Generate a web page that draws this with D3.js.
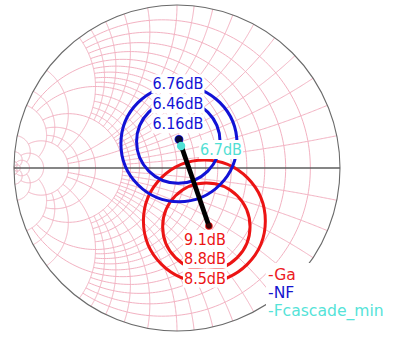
<!DOCTYPE html>
<html>
<head>
<meta charset="utf-8">
<script src="https://cdn.jsdelivr.net/npm/d3@7"></script>
<style>
  html, body { margin: 0; padding: 0; background: #fff; }
  svg { display: block; }
  text { font-family: "DejaVu Sans Condensed", "Liberation Sans", Arial, sans-serif; }
  .legend text { font-family: "DejaVu Sans", Verdana, sans-serif; }
</style>
</head>
<body>
<svg id="chart" width="395" height="338"></svg>
<script>
// ---- admittance grid (normalized conductance / susceptance) ----
const gridValues = [0.1, 0.2, 0.3, 0.4, 0.5, 0.6, 0.7, 0.8, 0.9, 1.0,
                    1.2, 1.4, 1.6, 1.8, 2.0, 3, 4, 5, 10, 20, 50];
// each line is drawn up to this value of the crossing family
const gridLimits = [2, 2, 2, 2, 5, 2, 2, 2, 2, 5,
                    2, 2, 2, 2, 5, 5, 5, 10, 20, 50, Infinity];

// ---- noise figure circles (reflection-coefficient plane) ----
const nfLevels   = [6.16, 6.46, 6.76];
const nfCenterRe = [0.012, 0.008, 0.012];
const nfCenterIm = [0.176, 0.162, 0.149];
const nfRadius   = [0.018, 0.256, 0.356];

// ---- available gain circles ----
const gaLevels   = [9.1, 8.8, 8.5];
const gaCenterRe = [0.196, 0.180, 0.168];
const gaCenterIm = [-0.356, -0.360, -0.325];
const gaRadius   = [0.014, 0.268, 0.374];

// ---- source locus between optimum noise and maximum gain ----
const locusRe = [0.012, 0.196];
const locusIm = [0.176, -0.356];

// ---- minimum cascade noise figure ----
const fminRe    = [0.025];
const fminIm    = [0.135];
const fminLevel = [6.7];

// ---- legend ----
const legendNames  = ["-Ga", "-NF", "-Fcascade_min"];
const legendColors = ["#ec1c24", "#1515cf", "#55e3d8"];

const colors = { ga: "#ec1414", nf: "#1212d6", fmin: "#4fe0d4", grid: "#f3b2c2" };

const cx = 177, cy = 168, R = 163;
const svg = d3.select("#chart");
const x = d3.scaleLinear().domain([-1, 1]).range([cx - R, cx + R]);
const y = d3.scaleLinear().domain([-1, 1]).range([cy + R, cy - R]);
const line = d3.line().x(p => x(p[0])).y(p => y(p[1]));

// reflection coefficient of a normalized admittance g + jb
function gamma(g, b) {
  if (!isFinite(g) || !isFinite(b)) return [-1, 0];
  const den = (1 + g) * (1 + g) + b * b;
  return [(1 - g * g - b * b) / den, -2 * b / den];
}

const N = 160;
const gridG = svg.append("g").attr("fill", "none")
  .attr("stroke", colors.grid).attr("stroke-width", 1);

gridValues.forEach((v, i) => {
  const lim = gridLimits[i];
  // constant-conductance circle, drawn for |b| <= lim
  const c0 = -v / (1 + v), r0 = 1 / (1 + v);
  const pe = gamma(v, lim);
  const tEnd = isFinite(lim) ? Math.atan2(pe[1], pe[0] - c0) : -Math.PI;
  const circ = d3.range(N + 1).map(k => {
    const t = tEnd + (-2 * tEnd) * k / N;
    return [c0 + r0 * Math.cos(t), r0 * Math.sin(t)];
  });
  gridG.append("path").attr("d", line(circ));

  // constant-susceptance arcs (both signs), drawn for g <= lim
  [v, -v].forEach(b => {
    const ccx = -1, ccy = -1 / b, rr = 1 / Math.abs(b);
    const p0 = gamma(0, b), p1 = gamma(lim, b);
    const a0 = Math.atan2(p0[1] - ccy, p0[0] - ccx);
    let a1 = Math.atan2(p1[1] - ccy, p1[0] - ccx);
    let d = a1 - a0;
    while (d > Math.PI) d -= 2 * Math.PI;
    while (d < -Math.PI) d += 2 * Math.PI;
    const arc = d3.range(N + 1).map(k => {
      const t = a0 + d * k / N;
      return [ccx + rr * Math.cos(t), ccy + rr * Math.sin(t)];
    });
    gridG.append("path").attr("d", line(arc));
  });
});

// outer rim and real axis
svg.append("circle").attr("cx", x(0)).attr("cy", y(0)).attr("r", x(1) - x(0))
  .attr("fill", "none").attr("stroke", "#6a6a6a").attr("stroke-width", 1.1);
svg.append("line").attr("x1", x(-1)).attr("x2", x(1)).attr("y1", y(0)).attr("y2", y(0))
  .attr("stroke", "#5e5e5e").attr("stroke-width", 1.3);

const rpx = v => x(v) - x(0);

// gain circles
svg.append("g").selectAll("circle").data(gaLevels).join("circle")
  .attr("cx", (d, i) => x(gaCenterRe[i])).attr("cy", (d, i) => y(gaCenterIm[i]))
  .attr("r", (d, i) => rpx(gaRadius[i]))
  .attr("fill", "none").attr("stroke", colors.ga).attr("stroke-width", 3);

// noise circles
svg.append("g").selectAll("circle").data(nfLevels).join("circle")
  .attr("cx", (d, i) => x(nfCenterRe[i])).attr("cy", (d, i) => y(nfCenterIm[i]))
  .attr("r", (d, i) => rpx(nfRadius[i]))
  .attr("fill", "none").attr("stroke", colors.nf).attr("stroke-width", 3);

// locus
svg.append("path")
  .attr("d", line(locusRe.map((r, i) => [r, locusIm[i]])))
  .attr("stroke", "#000").attr("stroke-width", 4.8).attr("fill", "none");
svg.append("circle").attr("cx", x(locusRe[0])).attr("cy", y(locusIm[0])).attr("r", 3.6)
  .attr("fill", "#0b0b3a");
svg.append("circle").attr("cx", x(locusRe[1])).attr("cy", y(locusIm[1])).attr("r", 2.8)
  .attr("fill", "#3a0505");

// Fcascade_min marker
svg.append("circle").attr("cx", x(fminRe[0])).attr("cy", y(fminIm[0])).attr("r", 4.2)
  .attr("fill", colors.fmin);

// labelled text with a white backing box
function boxedText(tx, ty, str, color, anchor, size) {
  const g = svg.append("g");
  const t = g.append("text").attr("x", tx).attr("y", ty).attr("fill", color)
    .attr("font-size", size).attr("text-anchor", anchor).text(str);
  const bb = t.node().getBBox();
  g.insert("rect", "text").attr("x", bb.x - 1).attr("y", bb.y)
    .attr("width", bb.width + 2).attr("height", bb.height).attr("fill", "#fff");
}

const ox = x(locusRe[0]), oy = y(locusIm[0]);
nfLevels.forEach((v, i) => {
  boxedText(ox - 1, oy - 10 - 20 * i, v.toFixed(2).replace(/0$/, "") + "dB", colors.nf, "middle", 16);
});
const gx = x(locusRe[1]), gy = y(locusIm[1]);
gaLevels.forEach((v, i) => {
  boxedText(gx - 4, gy + 19 + 19.3 * i, v.toFixed(1) + "dB", colors.ga, "middle", 16);
});
fminLevel.forEach((v, i) => {
  boxedText(x(fminRe[i]) + 19, y(fminIm[i]) + 9, v.toFixed(1) + "dB", colors.fmin, "start", 16);
});

// legend
const lg = svg.append("g").attr("class", "legend");
lg.append("rect").attr("x", 266).attr("y", 263).attr("width", 129).attr("height", 62).attr("fill", "#fff");
lg.selectAll("text").data(legendNames).join("text")
  .attr("x", 268).attr("y", (d, i) => 279.5 + 18.4 * i)
  .attr("fill", (d, i) => legendColors[i]).attr("font-size", 15.6).text(d => d);
</script>
</body>
</html>
